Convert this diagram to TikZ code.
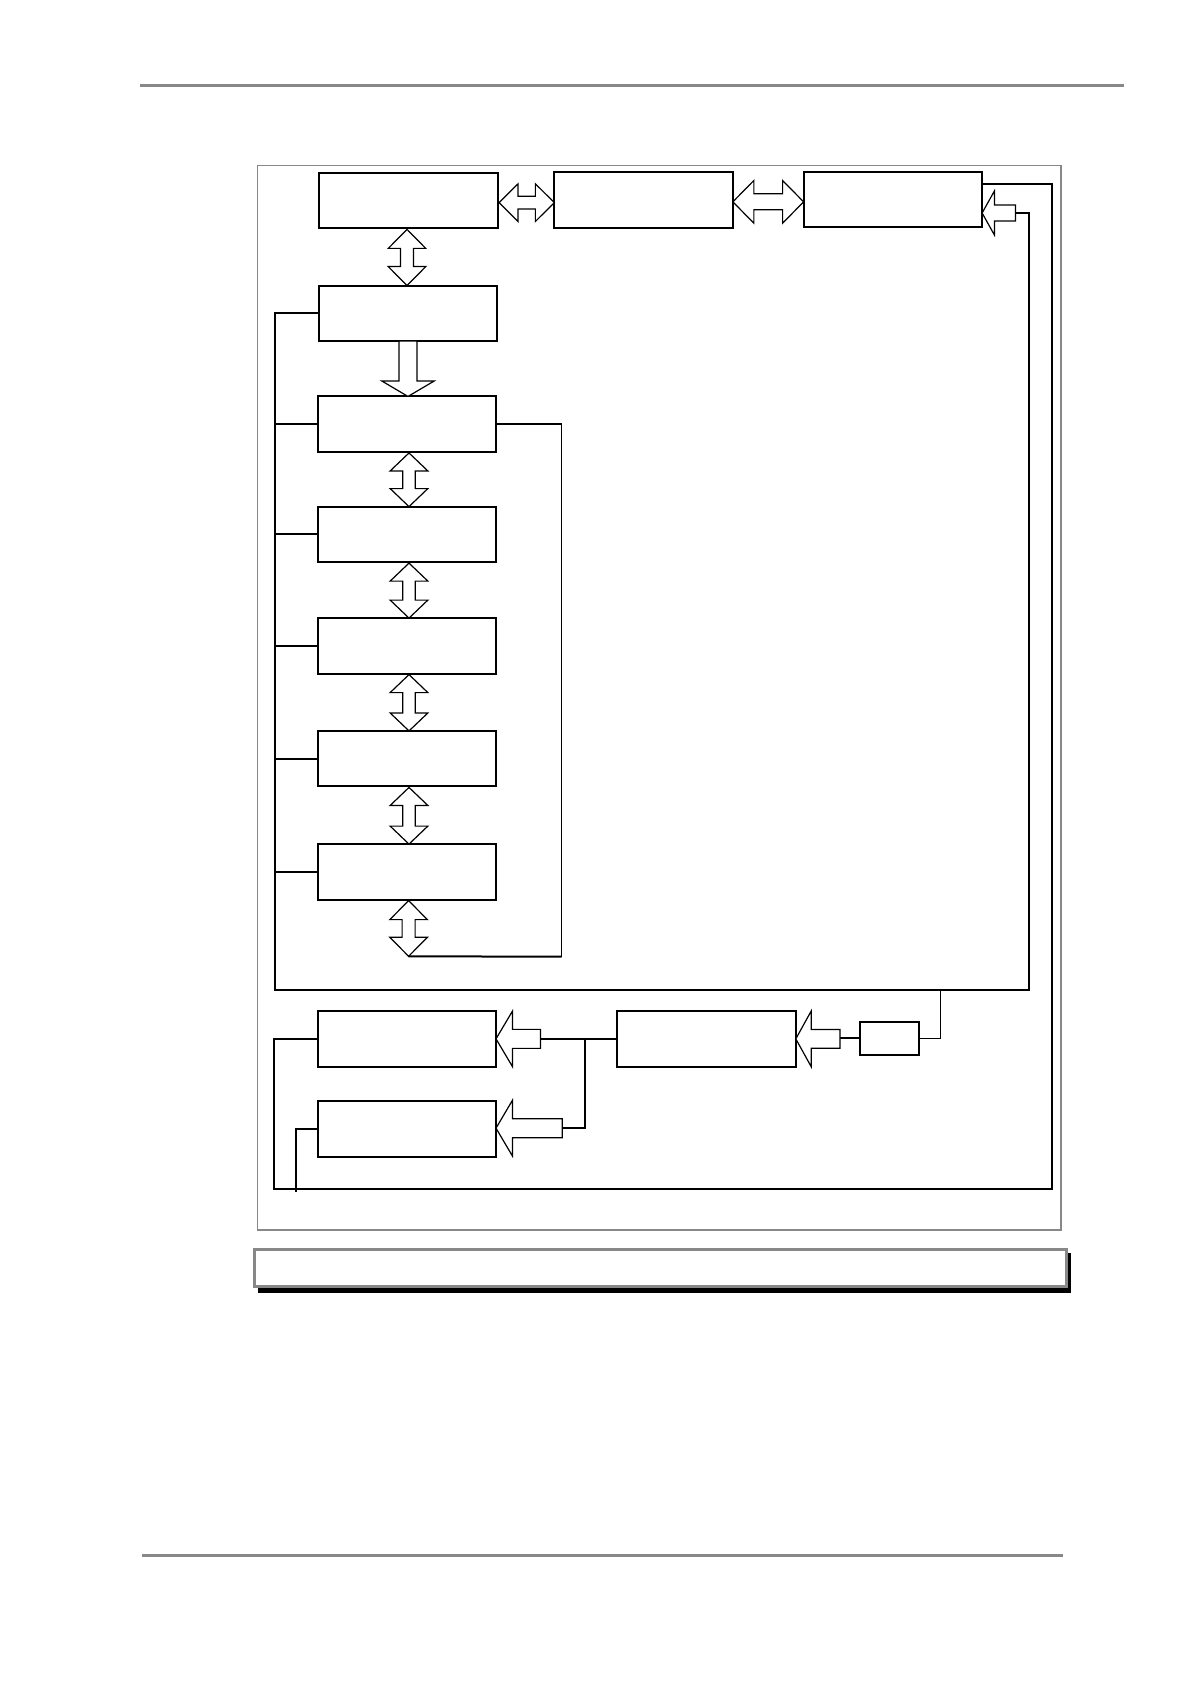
\documentclass[tikz,border=0pt]{standalone}
\usetikzlibrary{calc}
\definecolor{framegray}{RGB}{136,136,136}
\tikzset{
  box/.style={draw=black, line width=1pt, fill=white, inner sep=0pt, outer sep=0pt,
              minimum width=89.25pt, minimum height=27.75pt},
  smallbox/.style={box, minimum width=29.65pt, minimum height=16.5pt},
  blockarrow/.style={draw=black, line width=0.6pt, fill=white, line join=miter},
  wire/.style={draw=black, line width=1pt},
  thinwire/.style={draw=black, line width=0.6pt},
  pageline/.style={draw=framegray, line width=1.5pt},
  framestyle/.style={draw=framegray, line width=0.8pt}
}
% horizontal double block arrow: #1 left tip, #2 right tip, #3 head length, #4 head half, #5 shaft half
\newcommand\blkH[5]{\draw[blockarrow] (#1) -- ($(#1)+(#3,-#4)$) -- ($(#1)+(#3,-#5)$) -- ($(#2)+(-#3,-#5)$) -- ($(#2)+(-#3,-#4)$) -- (#2) -- ($(#2)+(-#3,#4)$) -- ($(#2)+(-#3,#5)$) -- ($(#1)+(#3,#5)$) -- ($(#1)+(#3,#4)$) -- cycle;}
% vertical double block arrow: #1 top tip, #2 bottom tip
\newcommand\blkV[5]{\draw[blockarrow] (#1) -- ($(#1)+(-#4,#3)$) -- ($(#1)+(-#5,#3)$) -- ($(#2)+(-#5,-#3)$) -- ($(#2)+(-#4,-#3)$) -- (#2) -- ($(#2)+(#4,-#3)$) -- ($(#2)+(#5,-#3)$) -- ($(#1)+(#5,#3)$) -- ($(#1)+(#4,#3)$) -- cycle;}
% left pointing single block arrow: #1 tip, #2 tail
\newcommand\blkL[5]{\draw[blockarrow] (#1) -- ($(#1)+(#3,-#4)$) -- ($(#1)+(#3,-#5)$) -- ($(#2)+(0,-#5)$) -- ($(#2)+(0,#5)$) -- ($(#1)+(#3,#5)$) -- ($(#1)+(#3,#4)$) -- cycle;}
% downward single block arrow: #1 tail (top), #2 tip (bottom)
\newcommand\blkD[5]{\draw[blockarrow] (#2) -- ($(#2)+(-#4,-#3)$) -- ($(#2)+(-#5,-#3)$) -- ($(#1)+(-#5,0)$) -- ($(#1)+(#5,0)$) -- ($(#2)+(#5,-#3)$) -- ($(#2)+(#4,-#3)$) -- cycle;}
\begin{document}
\begin{tikzpicture}[x=0.5pt,y=-0.5pt]
\useasboundingbox (0,0) rectangle (1191,1684);
\fill[white] (0,0) rectangle (1191,1684);

% page lines
\draw[pageline] (140,85.3) -- (1124,85.3);
\draw[pageline] (142,1555.3) -- (1063,1555.3);

% frame
\draw[framestyle] (257.4,165.5) rectangle (1061,1230);

% boxes
\node[box] (b1) at (408.3,200.35) {};
\node[box] (b2) at (643.6,199.85) {};
\node[box] (b3) at (892.85,199.7) {};
\node[box] (b4) at (407.8,313.35) {};
\node[box] (b5) at (407,424.2) {};
\node[box] (b6) at (407,534.35) {};
\node[box] (b7) at (407,645.85) {};
\node[box] (b8) at (407,758.7) {};
\node[box] (b9) at (407,871.85) {};
\node[box] (b11) at (406.75,1038.85) {};
\node[box] (b12) at (406.75,1129.15) {};
\node[box] (b10) at (706.55,1038.85) {};
\node[smallbox] (sm) at (889.35,1038.2) {};

% coordinates for connectors
\coordinate (a12L) at ($(b1.east)+(1.5,2.3)$);
\coordinate (a12R) at (a12L -| b2.west);
\coordinate (a23L) at ($(b2.east)+(0,2)$);
\coordinate (a23R) at (a23L -| b3.west);
\coordinate (a3tip) at ($(b3.east)+(0,13.3)$);
\coordinate (a3tail) at ($(a3tip)+(33.3,0)$);
\coordinate (v14T) at ($(b1.south)+(-1.3,1.3)$);
\coordinate (v14B) at (v14T |- b4.north);
\coordinate (d45T) at ($(b4.south)+(0.2,0)$);
\coordinate (d45B) at (d45T |- b5.north);
\coordinate (v56T) at ($(b5.south)+(2,1)$);
\coordinate (v56B) at (v56T |- b6.north);
\coordinate (v67T) at ($(b6.south)+(2,1)$);
\coordinate (v67B) at (v67T |- b7.north);
\coordinate (v78T) at ($(b7.south)+(2,1)$);
\coordinate (v78B) at (v78T |- b8.north);
\coordinate (v89T) at ($(b8.south)+(2,1)$);
\coordinate (v89B) at (v89T |- b9.north);
\coordinate (v9T) at ($(b9.south)+(1.6,1)$);
\coordinate (loopend) at ($(v9T)+(0,55.7)$);
\coordinate (loopR) at (561.7,956.7);
\coordinate (busBL) at (274.8,990);
\coordinate (busBR) at (1029,990);
\coordinate (outR) at (1052,1189.3);
\coordinate (outL) at (273.9,1189.3);
\coordinate (b3out) at ($(b3.east)+(0,-15.7)$);
\coordinate (b12end) at (296,1192);
\coordinate (tap) at (940.3,990);
\coordinate (b10tail) at ($(b10.east)+(44.2,0)$);
\coordinate (b11tail) at ($(b11.east)+(44.4,0)$);
\coordinate (b12tail) at ($(b12.east)+(66.3,-1)$);
\coordinate (jn) at (585,1038.85);

% wires
\draw[wire] (b4.west) -| (busBL) -- (busBR) |- (a3tail);
\foreach \b in {b5,b6,b7,b8,b9} \draw[wire] (\b.west) -- (\b.west -| busBL);
\draw[wire] (b3out) -| (outR) -- (outL) |- (b11.west);
\draw[wire] (b12.west) -| (b12end);
\draw[wire] (b5.east) -- (b5.east -| loopR);
\draw[thinwire] (b5.east -| loopR) -- (loopR);
\draw[wire] (loopR) -- (loopend);
\draw[thinwire] (tap) |- (sm.east);
\draw[wire] (sm.west) -- (sm.west -| b10tail);
\draw[wire] (b10.west) -- (b11tail);
\draw[wire] (jn) |- (b12tail);

% block arrows
\blkH{a12L}{a12R}{19}{18.85}{6.3}
\blkH{a23L}{a23R}{21}{21.35}{8}
\blkL{a3tip}{a3tail}{12.3}{22}{8}
\blkV{v14T}{v14B}{19}{18.75}{6.5}
\blkD{d45T}{d45B}{15.4}{26.1}{9}
\blkV{v56T}{v56B}{18}{18.85}{6.2}
\blkV{v67T}{v67B}{18}{18.85}{6.2}
\blkV{v78T}{v78B}{18}{18.85}{6.2}
\blkV{v89T}{v89B}{18}{18.85}{6.2}
\blkV{v9T}{loopend}{19}{18.75}{6.5}
\blkL{b11.east}{b11tail}{16.5}{27.85}{9.5}
\blkL{$(b12.east)+(0,-1)$}{b12tail}{16.5}{28}{9.5}
\blkL{b10.east}{b10tail}{15.4}{27.85}{9.35}

% caption box with shadow
\fill[black] (258,1253) rectangle (1070.5,1292.7);
\node[draw=framegray, line width=1.5pt, fill=white, inner sep=0pt, outer sep=0pt,
      minimum width=405.75pt, minimum height=18.5pt] (cap) at (660.25,1268.3) {};
\end{tikzpicture}
\end{document}
